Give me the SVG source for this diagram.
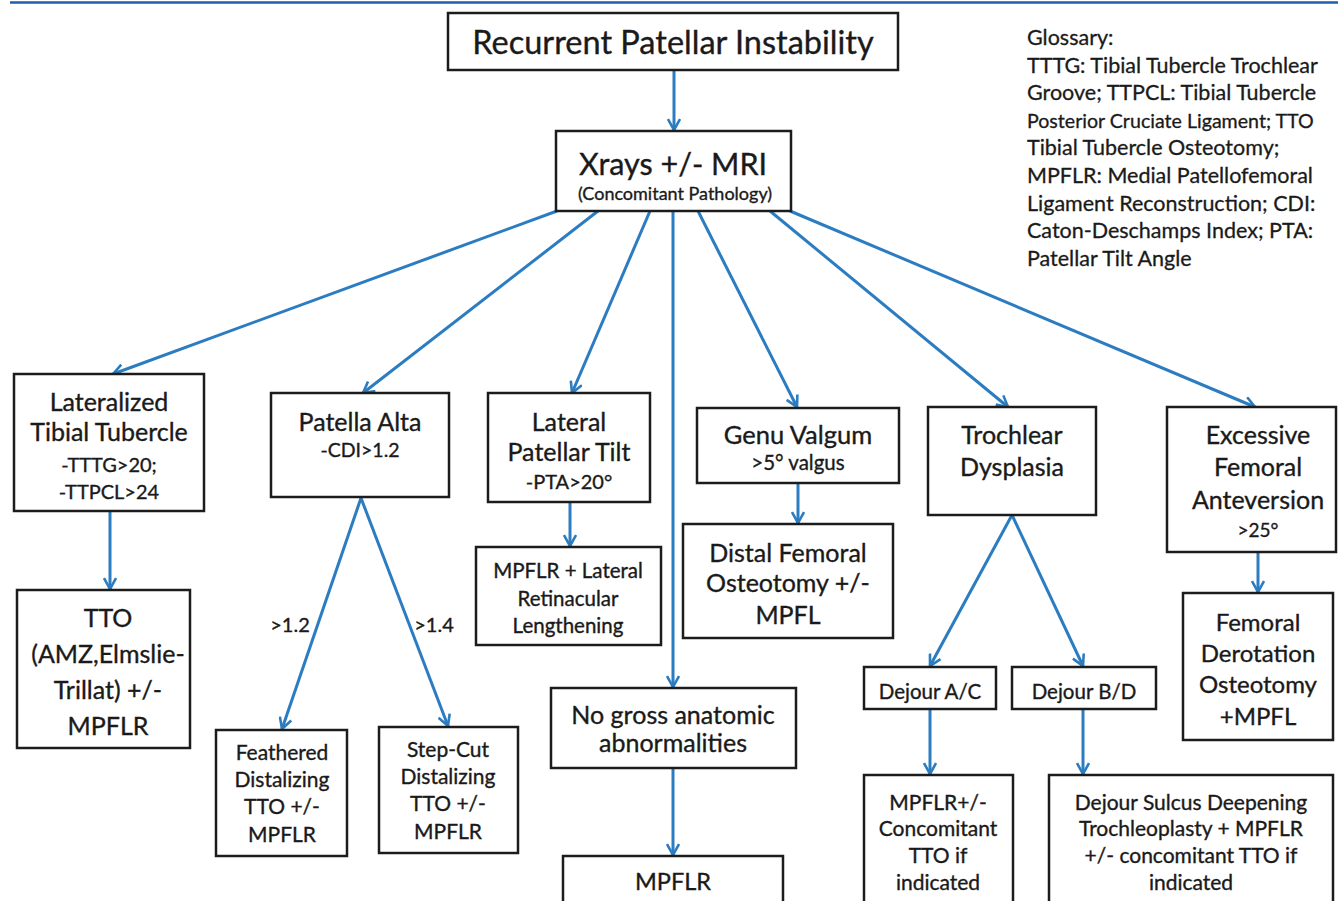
<svg xmlns="http://www.w3.org/2000/svg" width="1338" height="901" viewBox="0 0 1338 901">
<style>
.box{fill:#fff;stroke:#1c1c1c;stroke-width:2.5}
.t{font-family:Lato,"Open Sans","Liberation Sans",sans-serif;fill:#1a1a1a;stroke:#1a1a1a;stroke-width:0.35;text-anchor:middle}
.g{font-family:Lato,"Open Sans","Liberation Sans",sans-serif;fill:#1a1a1a;stroke:#1a1a1a;stroke-width:0.3;font-size:21.5px}
.c{fill:none;stroke:#2b7cc0;stroke-width:3}
</style>
<defs>
<marker id="ah" viewBox="0 0 14 14" refX="12.5" refY="7" markerWidth="14" markerHeight="14" orient="auto" markerUnits="userSpaceOnUse">
<path d="M1.5,1 L12.5,7 L1.5,13" fill="none" stroke="#2b7cc0" stroke-width="2.6"/>
</marker>
</defs>
<rect width="1338" height="901" fill="#fff"/>
<line x1="10" y1="2.5" x2="1338" y2="2.5" stroke="#1f5fa6" stroke-width="2.5"/>

<g id="connectors">
<line class="c" marker-end="url(#ah)" x1="674" y1="70" x2="674" y2="130"/>
<line class="c" marker-end="url(#ah)" x1="557" y1="211" x2="113" y2="374"/>
<line class="c" marker-end="url(#ah)" x1="598" y1="211" x2="363" y2="393"/>
<line class="c" marker-end="url(#ah)" x1="650" y1="211" x2="572" y2="393"/>
<line class="c" marker-end="url(#ah)" x1="673" y1="211" x2="673" y2="687"/>
<line class="c" marker-end="url(#ah)" x1="698" y1="211" x2="797" y2="407"/>
<line class="c" marker-end="url(#ah)" x1="770" y1="211" x2="1008" y2="407"/>
<line class="c" marker-end="url(#ah)" x1="790" y1="211" x2="1255" y2="407"/>
<line class="c" marker-end="url(#ah)" x1="110" y1="511" x2="110" y2="589"/>
<line class="c" marker-end="url(#ah)" x1="361" y1="498" x2="282" y2="729"/>
<line class="c" marker-end="url(#ah)" x1="361" y1="498" x2="448" y2="726"/>
<line class="c" marker-end="url(#ah)" x1="570" y1="502" x2="570" y2="546"/>
<line class="c" marker-end="url(#ah)" x1="798" y1="483" x2="798" y2="523"/>
<line class="c" marker-end="url(#ah)" x1="1012" y1="515" x2="930" y2="666"/>
<line class="c" marker-end="url(#ah)" x1="1012" y1="515" x2="1083" y2="666"/>
<line class="c" marker-end="url(#ah)" x1="1258" y1="552" x2="1258" y2="592"/>
<line class="c" marker-end="url(#ah)" x1="673" y1="768" x2="673" y2="855"/>
<line class="c" marker-end="url(#ah)" x1="930" y1="709" x2="930" y2="774"/>
<line class="c" marker-end="url(#ah)" x1="1083" y1="709" x2="1083" y2="774"/>
<text class="t" x="290" y="632" font-size="20">&gt;1.2</text>
<text class="t" x="434" y="632" font-size="20">&gt;1.4</text>
</g>

<g id="n-recurrent">
<rect class="box" x="448" y="13" width="450" height="57"/>
<text class="t" x="673" y="54" font-size="32.5">Recurrent Patellar Instability</text>
</g>
<g id="n-xrays">
<rect class="box" x="556" y="131" width="235" height="80"/>
<text class="t" x="673" y="175" font-size="30.5">Xrays +/- MRI</text>
<text class="t" x="675" y="200" font-size="18">(Concomitant Pathology)</text>
</g>
<g id="n-lateralized">
<rect class="box" x="14" y="374" width="190" height="137"/>
<text class="t" x="109" y="411" font-size="25">Lateralized</text>
<text class="t" x="109" y="441" font-size="25">Tibial Tubercle</text>
<text class="t" x="109" y="472" font-size="20">-TTTG&gt;20;</text>
<text class="t" x="109" y="499" font-size="20">-TTPCL&gt;24</text>
</g>
<g id="n-tto">
<rect class="box" x="17" y="590" width="173" height="158"/>
<text class="t" x="108" y="627" font-size="25">TTO</text>
<text class="t" x="108" y="663" font-size="25">(AMZ,Elmslie-</text>
<text class="t" x="108" y="699" font-size="25">Trillat) +/-</text>
<text class="t" x="108" y="735" font-size="25">MPFLR</text>
</g>
<g id="n-alta">
<rect class="box" x="271" y="393" width="178" height="104"/>
<text class="t" x="360" y="431" font-size="25">Patella Alta</text>
<text class="t" x="360" y="457" font-size="19.5">-CDI&gt;1.2</text>
</g>
<g id="n-feathered">
<rect class="box" x="216" y="730" width="131" height="126"/>
<text class="t" x="282" y="760" font-size="21">Feathered</text>
<text class="t" x="282" y="787" font-size="21">Distalizing</text>
<text class="t" x="282" y="814" font-size="21">TTO +/-</text>
<text class="t" x="282" y="842" font-size="21">MPFLR</text>
</g>
<g id="n-stepcut">
<rect class="box" x="379" y="727" width="139" height="126"/>
<text class="t" x="448" y="757" font-size="21">Step-Cut</text>
<text class="t" x="448" y="784" font-size="21">Distalizing</text>
<text class="t" x="448" y="811" font-size="21">TTO +/-</text>
<text class="t" x="448" y="839" font-size="21">MPFLR</text>
</g>
<g id="n-tilt">
<rect class="box" x="488" y="393" width="162" height="109"/>
<text class="t" x="569" y="431" font-size="25">Lateral</text>
<text class="t" x="569" y="461" font-size="25">Patellar Tilt</text>
<text class="t" x="569" y="489" font-size="20">-PTA&gt;20°</text>
</g>
<g id="n-retinacular">
<rect class="box" x="476" y="547" width="185" height="98"/>
<text class="t" x="568" y="578" font-size="20.5">MPFLR + Lateral</text>
<text class="t" x="568" y="606" font-size="20.5">Retinacular</text>
<text class="t" x="568" y="633" font-size="20.5">Lengthening</text>
</g>
<g id="n-nogross">
<rect class="box" x="551" y="688" width="245" height="80"/>
<text class="t" x="673" y="724" font-size="25">No gross anatomic</text>
<text class="t" x="673" y="752" font-size="25">abnormalities</text>
</g>
<g id="n-mpflr">
<rect class="box" x="563" y="856" width="220" height="60"/>
<text class="t" x="673" y="890" font-size="23.5">MPFLR</text>
</g>
<g id="n-genu">
<rect class="box" x="697" y="408" width="202" height="75"/>
<text class="t" x="798" y="444" font-size="25.5">Genu Valgum</text>
<text class="t" x="798" y="470" font-size="20.5">&gt;5° valgus</text>
</g>
<g id="n-distal">
<rect class="box" x="683" y="524" width="210" height="114"/>
<text class="t" x="788" y="562" font-size="25">Distal Femoral</text>
<text class="t" x="788" y="592" font-size="25">Osteotomy +/-</text>
<text class="t" x="788" y="624" font-size="25">MPFL</text>
</g>
<g id="n-trochlear">
<rect class="box" x="928" y="407" width="168" height="108"/>
<text class="t" x="1012" y="444" font-size="25">Trochlear</text>
<text class="t" x="1012" y="476" font-size="25">Dysplasia</text>
</g>
<g id="n-dejour-ac">
<rect class="box" x="864" y="667" width="132" height="42"/>
<text class="t" x="930" y="699" font-size="20.5">Dejour A/C</text>
</g>
<g id="n-dejour-bd">
<rect class="box" x="1012" y="667" width="144" height="42"/>
<text class="t" x="1084" y="699" font-size="20.5">Dejour B/D</text>
</g>
<g id="n-mpflr-conc">
<rect class="box" x="864" y="775" width="149" height="140"/>
<text class="t" x="938" y="810" font-size="21">MPFLR+/-</text>
<text class="t" x="938" y="836" font-size="21">Concomitant</text>
<text class="t" x="938" y="863" font-size="21">TTO if</text>
<text class="t" x="938" y="890" font-size="21">indicated</text>
</g>
<g id="n-sulcus">
<rect class="box" x="1049" y="775" width="284" height="140"/>
<text class="t" x="1191" y="810" font-size="21">Dejour Sulcus Deepening</text>
<text class="t" x="1191" y="836" font-size="21">Trochleoplasty + MPFLR</text>
<text class="t" x="1191" y="863" font-size="21">+/- concomitant TTO if</text>
<text class="t" x="1191" y="890" font-size="21">indicated</text>
</g>
<g id="n-excessive">
<rect class="box" x="1167" y="407" width="169" height="145"/>
<text class="t" x="1258" y="444" font-size="25">Excessive</text>
<text class="t" x="1258" y="476" font-size="25">Femoral</text>
<text class="t" x="1258" y="509" font-size="25">Anteversion</text>
<text class="t" x="1258" y="537" font-size="19">&gt;25°</text>
</g>
<g id="n-derotation">
<rect class="box" x="1183" y="593" width="150" height="147"/>
<text class="t" x="1258" y="631" font-size="24">Femoral</text>
<text class="t" x="1258" y="662" font-size="24">Derotation</text>
<text class="t" x="1258" y="693" font-size="24">Osteotomy</text>
<text class="t" x="1258" y="725" font-size="24">+MPFL</text>
</g>
<g id="glossary">
<text class="g" x="1027" y="45">Glossary:</text>
<text class="g" x="1027" y="73">TTTG: Tibial Tubercle Trochlear</text>
<text class="g" x="1027" y="100">Groove; TTPCL: Tibial Tubercle</text>
<text class="g" x="1027" y="128" style="font-size:19.6px">Posterior Cruciate Ligament; TTO</text>
<text class="g" x="1027" y="155">Tibial Tubercle Osteotomy;</text>
<text class="g" x="1027" y="183">MPFLR: Medial Patellofemoral</text>
<text class="g" x="1027" y="211">Ligament Reconstruction; CDI:</text>
<text class="g" x="1027" y="238">Caton-Deschamps Index; PTA:</text>
<text class="g" x="1027" y="266">Patellar Tilt Angle</text>
</g>
</svg>
